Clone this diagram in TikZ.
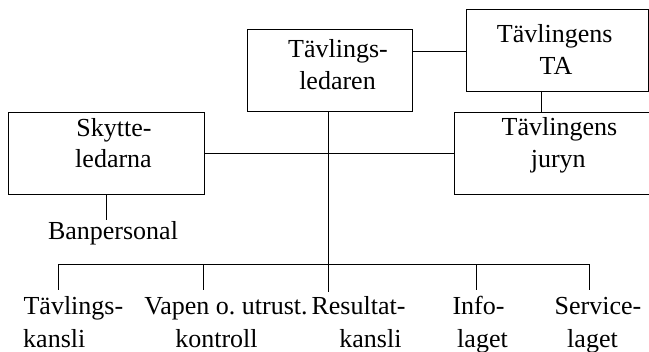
\documentclass[tikz,border=0pt]{standalone}
\usepackage{fontspec}
\setmainfont{Liberation Serif}
\frenchspacing
\begin{document}
\begin{tikzpicture}[x=1pt,y=-1pt,
  box/.style={draw,line width=0.9pt,rectangle,inner sep=0pt},
  lbl/.style={inner sep=0pt,anchor=base,font=\fontsize{26}{32}\selectfont},
  conn/.style={line width=0.9pt}]
\useasboundingbox (0,0) rectangle (649,352);
% boxes
\node[box,minimum width=165pt,minimum height=81.7pt] (tl) at (329.8,70.2) {};
\node[box,minimum width=182pt,minimum height=81.7pt] (ta) at (557,50.2) {};
\node[box,minimum width=195.5pt,minimum height=81.5pt] (sky) at (106.3,153.5) {};
\node[box,minimum width=200pt,minimum height=81.5pt] (jury) at (554.5,153.5) {};
% box texts
\node[lbl] (tl1) at (338,57.3) {Tävlings-};
\node[lbl] (tl2) at (337.5,89.3) {ledaren};
\node[lbl] (ta1) at (554.7,43) {Tävlingens};
\node[lbl] (ta2) at (556,75) {TA};
\node[lbl] (ju1) at (559.4,135.5) {Tävlingens};
\node[lbl] (ju2) at (558.3,168) {juryn};
\node[lbl] (sk1) at (114,137) {Skytte-};
\node[lbl] (sk2) at (113.5,168) {ledarna};
\node[lbl] (ban) at (113,240) {Banpersonal};
% bottom texts
\node[lbl] (b1a) at (73.4,315) {Tävlings-};
\node[lbl] (b1b) at (54.3,348) {kansli};
\node[lbl] (b2a) at (226,315) {Vapen o. utrust.};
\node[lbl] (b2b) at (216.5,348) {kontroll};
\node[lbl] (b3a) at (358.5,315) {Resultat-};
\node[lbl] (b3b) at (370.5,348) {kansli};
\node[lbl] (b4a) at (478.5,315) {Info-};
\node[lbl] (b4b) at (482.5,348) {laget};
\node[lbl] (b5a) at (598,315) {Service-};
\node[lbl] (b5b) at (592.5,348) {laget};
% coordinates
\coordinate (tlta) at (412.3,51.7);
\coordinate (tj) at (541.7,91);
\coordinate (sb) at (106.3,220);
\coordinate (cb) at (328.5,292);
\coordinate (bus0) at (58.7,264.3);
\coordinate (bus1) at (203,264.3);
\coordinate (busc) at (328.5,264.3);
\coordinate (bus4) at (476,264.3);
\coordinate (bus5) at (589,264.3);
\coordinate (e0) at (58.7,290);
\coordinate (e1) at (203,290);
\coordinate (e4) at (476,290);
\coordinate (e5) at (589,290);
% connectors
\draw[conn] (tlta) -- (tlta -| ta.west);
\draw[conn] (tj) -- (tj |- jury.north);
\draw[conn] (sky.east) -- (jury.west);
\draw[conn] (tl.south -| cb) -- (cb);
\draw[conn] (sky.south) -- (sb);
\draw[conn] (bus0) -- (bus5);
\draw[conn] (bus0) -- (e0);
\draw[conn] (bus1) -- (e1);
\draw[conn] (bus4) -- (e4);
\draw[conn] (bus5) -- (e5);
\end{tikzpicture}
\end{document}
